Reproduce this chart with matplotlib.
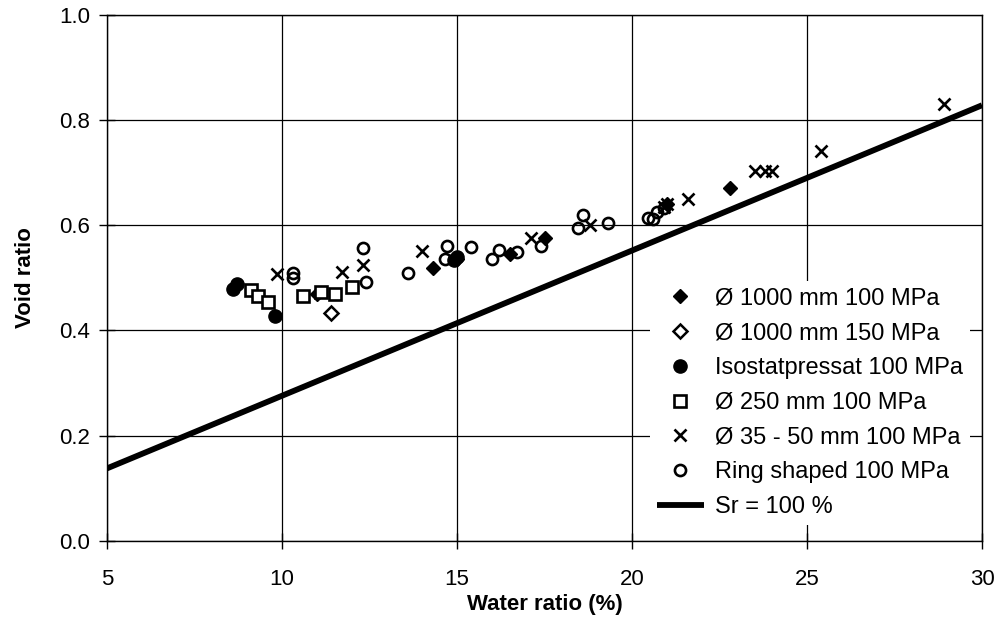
import matplotlib
matplotlib.use("Agg")
import matplotlib.pyplot as plt

plt.rcParams['font.family'] = ['Liberation Sans', 'DejaVu Sans']

# Data (water ratio %, void ratio)
d1000_100_w = [11.0, 14.3, 15.0, 16.5, 17.5, 21.0, 22.8]
d1000_100_e = [0.470, 0.518, 0.535, 0.545, 0.575, 0.640, 0.670]

d1000_150_w = [11.4]
d1000_150_e = [0.433]

iso_w = [8.6, 8.7, 9.8, 14.9, 15.0]
iso_e = [0.478, 0.488, 0.428, 0.534, 0.540]

d250_w = [9.1, 9.3, 9.6, 10.6, 11.1, 11.5, 12.0]
d250_e = [0.477, 0.466, 0.455, 0.466, 0.473, 0.470, 0.483]

d35_w = [9.85, 11.7, 12.3, 14.0, 17.1, 18.8, 20.9, 21.0, 21.6, 23.5, 23.8, 24.0, 25.4, 28.9]
d35_e = [0.507, 0.511, 0.525, 0.551, 0.576, 0.600, 0.635, 0.640, 0.650, 0.703, 0.703, 0.703, 0.741, 0.830]

ring_w = [10.3, 10.3, 12.3, 12.4, 13.6, 14.65, 14.7, 15.4, 16.0, 16.2, 16.7, 17.4, 18.46, 18.6, 19.3, 20.45, 20.6, 20.7, 20.9]
ring_e = [0.509, 0.500, 0.556, 0.492, 0.509, 0.536, 0.560, 0.559, 0.536, 0.553, 0.549, 0.560, 0.594, 0.620, 0.604, 0.614, 0.612, 0.625, 0.632]

sr_w = [5, 30]
sr_e = [0.138, 0.828]

x_ticks = [5, 10, 15, 20, 25, 30]
y_ticks = [0.0, 0.2, 0.4, 0.6, 0.8, 1.0]

fig = plt.figure(figsize=(10.04, 6.41), dpi=100)
ax = fig.add_axes([0.1066, 0.156, 0.8715, 0.821])

ax.plot(d1000_100_w, d1000_100_e, linestyle='none', marker='D', ms=7,
        mfc='black', mec='black', label='Ø 1000 mm 100 MPa', zorder=3)
ax.plot(d1000_150_w, d1000_150_e, linestyle='none', marker='D', ms=7,
        mfc='white', mec='black', mew=1.8, label='Ø 1000 mm 150 MPa', zorder=3)
ax.plot(iso_w, iso_e, linestyle='none', marker='o', ms=9.5,
        mfc='black', mec='black', label='Isostatpressat 100 MPa', zorder=3)
ax.plot(d250_w, d250_e, linestyle='none', marker='s', ms=8,
        mfc='white', mec='black', mew=1.9, label='Ø 250 mm 100 MPa', zorder=3)
ax.plot(d35_w, d35_e, linestyle='none', marker='x', ms=8.5,
        mec='black', mew=1.9, label='Ø 35 - 50 mm 100 MPa', zorder=3)
ax.plot(ring_w, ring_e, linestyle='none', marker='o', ms=8,
        mfc='none', mec='black', mew=1.9, label='Ring shaped 100 MPa', zorder=3)
ax.plot(sr_w, sr_e, color='black', lw=4.2, label='Sr = 100 %', zorder=2,
        solid_capstyle='butt')

ax.set_xlim(5, 30)
ax.set_ylim(0, 1.0)
ax.set_xticks(x_ticks)
ax.set_yticks(y_ticks)
ax.set_xticklabels([str(t) for t in x_ticks])
ax.set_yticklabels([f"{t:.1f}" for t in y_ticks])
ax.grid(True, color='black', lw=0.9)
ax.set_axisbelow(True)
for s in ax.spines.values():
    s.set_linewidth(1.0)
ax.tick_params(direction='inout', length=12, width=1.0, labelsize=16)
ax.tick_params(axis='x', pad=14)
ax.tick_params(axis='y', pad=6)

ax.set_xlabel('Water ratio (%)', fontsize=16, fontweight='bold', labelpad=3)
ax.set_ylabel('Void ratio', fontsize=16, fontweight='bold', labelpad=17)

leg = ax.legend(loc='lower right', bbox_to_anchor=(0.986, 0.03), borderaxespad=0,
                frameon=True, fontsize=17, handlelength=2.0, handletextpad=0.45,
                labelspacing=0.54, borderpad=0.3, fancybox=False)
leg.get_frame().set_facecolor('white')
leg.get_frame().set_edgecolor('none')
leg.get_frame().set_alpha(1.0)

fig.savefig('out.png', dpi=100)
